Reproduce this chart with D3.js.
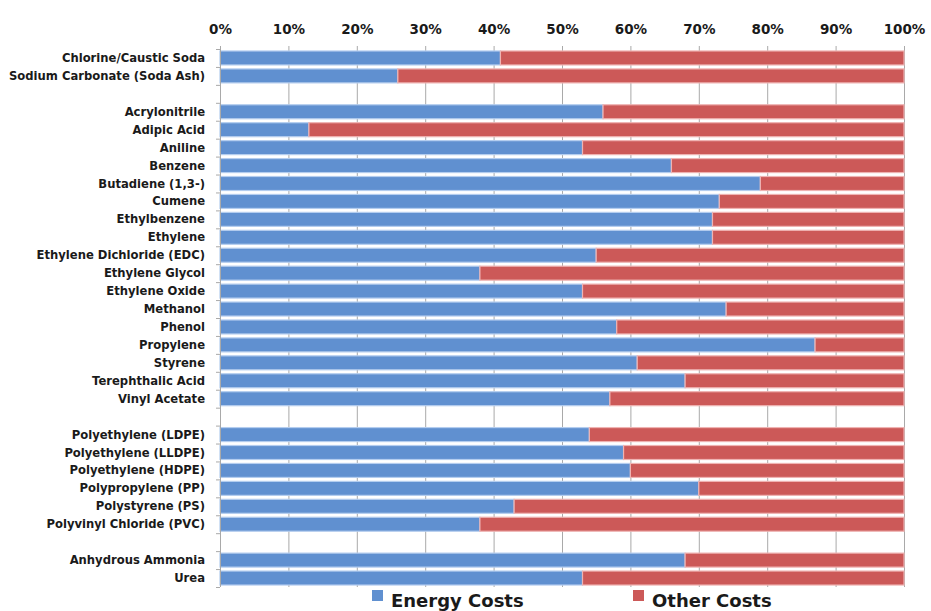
<!DOCTYPE html>
<html>
<head>
<meta charset="utf-8">
<script src="https://cdn.jsdelivr.net/npm/d3@7/dist/d3.min.js"></script>
<style>
  html, body { margin: 0; padding: 0; background: #ffffff; }
  svg { display: block; }
  text { font-family: "DejaVu Sans", sans-serif; font-weight: bold; fill: #1a1a1a; }
</style>
</head>
<body>
<svg id="chart" width="931" height="611"></svg>
<script>
// Product rows, top to bottom; empty strings are spacer rows between groups
const categories = [
  "Chlorine/Caustic Soda", "Sodium Carbonate (Soda Ash)", "",
  "Acrylonitrile", "Adipic Acid", "Aniline", "Benzene", "Butadiene (1,3-)",
  "Cumene", "Ethylbenzene", "Ethylene", "Ethylene Dichloride (EDC)",
  "Ethylene Glycol", "Ethylene Oxide", "Methanol", "Phenol", "Propylene",
  "Styrene", "Terephthalic Acid", "Vinyl Acetate", "",
  "Polyethylene (LDPE)", "Polyethylene (LLDPE)", "Polyethylene (HDPE)",
  "Polypropylene (PP)", "Polystyrene (PS)", "Polyvinyl Chloride (PVC)", "",
  "Anhydrous Ammonia", "Urea"
];

// Share of total production cost, percent (null on spacer rows)
const energyCosts = [
  41, 26, null,
  56, 13, 53, 66, 79, 73, 72, 72, 55, 38, 53, 74, 58, 87, 61, 68, 57, null,
  54, 59, 60, 70, 43, 38, null,
  68, 53
];
const otherCosts = [
  59, 74, null,
  44, 87, 47, 34, 21, 27, 28, 28, 45, 62, 47, 26, 42, 13, 39, 32, 43, null,
  46, 41, 40, 30, 57, 62, null,
  32, 47
];

const xTicks = [0, 10, 20, 30, 40, 50, 60, 70, 80, 90, 100];
const seriesNames = ["Energy Costs", "Other Costs"];
const seriesColors = ["#6090d0", "#cc5958"];
const seriesEdges = ["#b4cdef", "#efb3b2"];

const svg = d3.select("#chart");
const margin = { top: 49, right: 27, bottom: 24, left: 220 };
const width = 931 - margin.left - margin.right;
const height = 611 - margin.top - margin.bottom;

const g = svg.append("g").attr("transform", `translate(${margin.left},${margin.top})`);

const x = d3.scaleLinear().domain([0, 100]).range([0, width]);
const y = d3.scaleBand().domain(d3.range(categories.length)).range([0, height]).paddingInner(0.22).paddingOuter(0.11);
const step = y.step();

// vertical gridlines with short ticks above the plot
g.append("g")
  .selectAll("line")
  .data(xTicks)
  .join("line")
  .attr("x1", d => x(d) + 0.5).attr("x2", d => x(d) + 0.5)
  .attr("y1", -3).attr("y2", height)
  .attr("stroke", "#a9a9a9").attr("stroke-width", 1);

// top percent labels
const xAxis = d3.axisTop(x).tickValues(xTicks).tickFormat(d => d + "%").tickSize(0).tickPadding(15);
const xg = g.append("g").call(xAxis);
xg.select(".domain").remove();
xg.selectAll("text").style("font-size", "13.5px").style("font-family", "DejaVu Sans, sans-serif").style("font-weight", "bold").attr("fill", "#1a1a1a");

// stacked bars
const rows = categories.map((c, i) => ({ i, name: c, energy: energyCosts[i], other: otherCosts[i] }))
  .filter(d => d.energy !== null);
const stack = d3.stack().keys(["energy", "other"]);
const layers = stack(rows);

g.append("g")
  .selectAll("g")
  .data(layers)
  .join("g")
  .attr("fill", (d, k) => seriesColors[k])
  .attr("stroke", (d, k) => seriesEdges[k])
  .attr("stroke-width", 1.2)
  .selectAll("rect")
  .data(d => d)
  .join("rect")
  .attr("x", d => x(d[0]))
  .attr("width", d => x(d[1]) - x(d[0]))
  .attr("y", d => y(d.data.i))
  .attr("height", y.bandwidth());

// left axis line with ticks at row boundaries
g.append("line")
  .attr("x1", 0.5).attr("x2", 0.5).attr("y1", 0).attr("y2", height)
  .attr("stroke", "#a9a9a9");
g.append("g")
  .selectAll("line")
  .data(d3.range(categories.length + 1))
  .join("line")
  .attr("x1", -4).attr("x2", 0)
  .attr("y1", k => k * step + 0.5).attr("y2", k => k * step + 0.5)
  .attr("stroke", "#a9a9a9");

// category labels
g.append("g")
  .selectAll("text")
  .data(categories.map((c, i) => ({ c, i })).filter(d => d.c !== ""))
  .join("text")
  .attr("x", -15)
  .attr("y", d => y(d.i) + y.bandwidth() / 2)
  .attr("dy", "0.35em")
  .attr("text-anchor", "end")
  .style("font-size", "11.6px")
  .text(d => d.c);

// legend
const legendPos = [372, 633];
const legend = svg.append("g");
seriesNames.forEach((name, k) => {
  legend.append("rect")
    .attr("x", legendPos[k]).attr("y", 590)
    .attr("width", 11).attr("height", 11)
    .attr("fill", seriesColors[k]);
  legend.append("text")
    .attr("x", legendPos[k] + 19).attr("y", 607)
    .style("font-size", "18px")
    .text(name);
});
</script>
</body>
</html>
